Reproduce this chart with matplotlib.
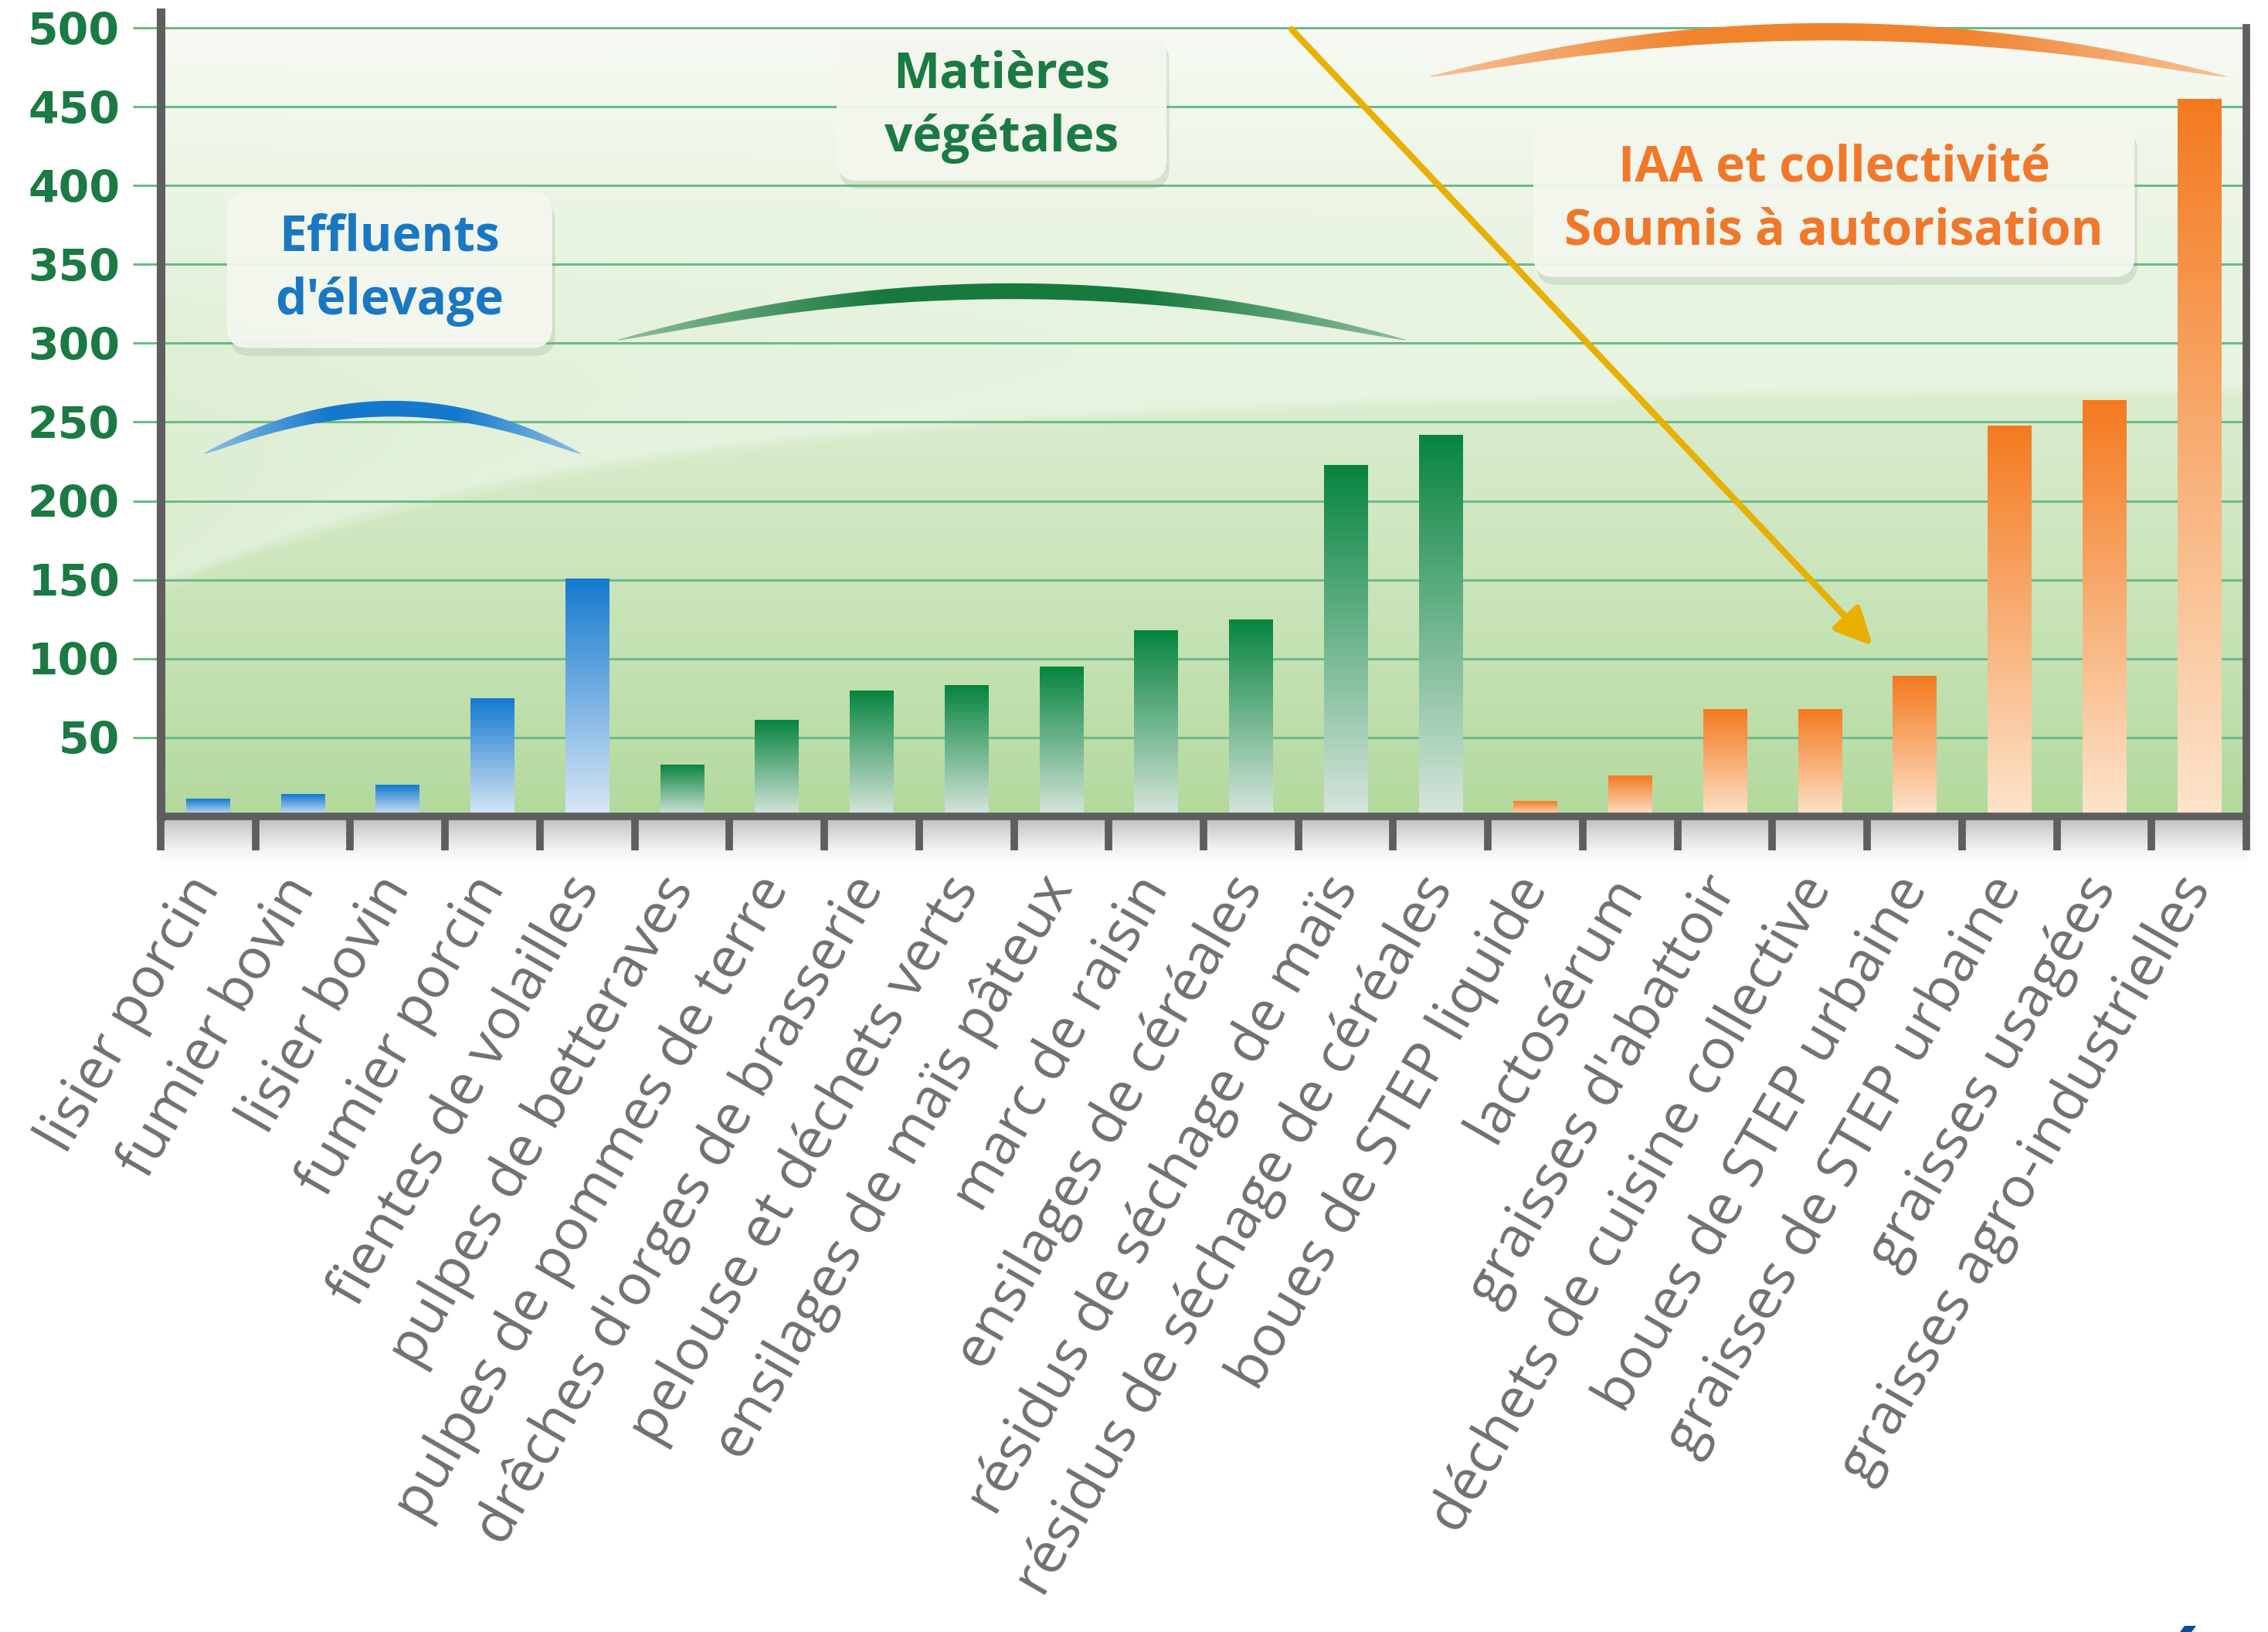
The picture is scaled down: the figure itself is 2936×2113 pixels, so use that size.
import numpy as np
import matplotlib.pyplot as plt
from matplotlib.patches import Polygon, FancyBboxPatch
from matplotlib.colors import LinearSegmentedColormap, to_rgb

# Potentiel méthanogène des substrats
categories = [
    "lisier porcin", "fumier bovin", "lisier bovin", "fumier porcin",
    "fientes de volailles", "pulpes de betteraves", "pulpes de pommes de terre",
    "drêches d'orges de brasserie", "pelouse et déchets verts",
    "ensilages de maïs pâteux", "marc de raisin", "ensilages de céréales",
    "résidus de séchage de maïs", "résidus de séchage de céréales",
    "boues de STEP liquide", "lactosérum", "graisses d'abattoir",
    "déchets de cuisine collective", "boues de STEP urbaine",
    "graisses de STEP urbaine", "graisses usagées", "graisses agro-industrielles",
]
valeurs = [11, 14, 20, 75, 151, 33, 61, 80, 83, 95, 118, 125, 223, 242,
           10, 26, 68, 68, 89, 248, 264, 455]
familles = ["elevage"] * 5 + ["vegetal"] * 9 + ["iaa"] * 8
y_ticks = [50, 100, 150, 200, 250, 300, 350, 400, 450, 500]

groupes = {
    "elevage": "Effluents\nd'élevage",
    "vegetal": "Matières\nvégétales",
    "iaa": "IAA et collectivité\nSoumis à autorisation",
}

couleurs = {
    "elevage": ("#1479cf", "#dbe8f6", "#1a78c2"),
    "vegetal": ("#07843f", "#d8e6dd", "#1b7a43"),
    "iaa": ("#f47a1f", "#fde4cd", "#f0782a"),
}

GRID = "#6dbb88"
AXE = "#5e5e5e"

fig = plt.figure(figsize=(29.36, 21.13), dpi=100)
ax = fig.add_axes([0.0708, 0.4998, 0.9197, 0.4928])
ax.set_facecolor("white")

# fond : dégradé vertical + bande claire en vague
W, H = 900, 500
xx = np.linspace(-0.5, 21.5, W)
yy = np.linspace(0, 500, H)
X, Y = np.meshgrid(xx, yy)
bas = np.array(to_rgb("#b2d99c"))
haut = np.array(to_rgb("#f7faf3"))
t = (Y / 500.0) ** 0.85
img = bas[None, None, :] * (1 - t[..., None]) + haut[None, None, :] * t[..., None]
bord = 272 - 126 * np.exp(-(X + 0.5) / 5.0)
d = Y - bord
bande = 0.42 / (1 + np.exp(-d / 2.0)) * np.exp(-np.clip(d, 0, None) / 95.0)
img = img + (1 - img) * bande[..., None]
ax.imshow(img, extent=(-0.5, 21.5, 0, 500), origin="lower", aspect="auto",
          zorder=0, interpolation="bilinear")

# lignes de grille
ax.hlines(y_ticks, -0.5, 21.5, color=GRID, lw=2.2, zorder=1)


def arc(x0, x1, y_bout, y_sommet, epais, c_mil, c_bout):
    s = np.linspace(-1, 1, 300)
    x = x0 + (s + 1) / 2 * (x1 - x0)
    dessus = y_bout + (y_sommet - y_bout) * (1 - s ** 2)
    ep = epais * (1 - s ** 2) ** 0.7
    dessous = dessus - ep
    pts = np.vstack([np.column_stack([x, dessus]),
                     np.column_stack([x[::-1], dessous[::-1]])])
    poly = Polygon(pts, closed=True, fc="none", ec="none")
    ax.add_patch(poly)
    cmap = LinearSegmentedColormap.from_list("a", [c_bout, c_mil, c_mil, c_bout])
    grad = np.linspace(0, 1, 256)[None, :]
    im = ax.imshow(grad, extent=(x0, x1, y_bout - epais, y_sommet + 2),
                   cmap=cmap, aspect="auto", zorder=2, origin="lower")
    im.set_clip_path(poly)


arc(-0.05, 3.94, 230, 263.5, 10, "#1478cc", "#8fbfe6")
arc(4.31, 12.65, 302, 338, 10, "#17793f", "#8fbf9c")
arc(12.87, 21.31, 469, 503, 11, "#f0832e", "#f6c29a")

# barres en dégradé
x = np.arange(len(categories))
barres = ax.bar(x, valeurs, width=0.46, color="none", zorder=3)
for b, fam in zip(barres, familles):
    c_haut, c_bas, _ = couleurs[fam]
    cmap = LinearSegmentedColormap.from_list(fam, [c_bas, c_haut])
    grad = np.linspace(0, 1, 256)[:, None]
    im = ax.imshow(grad, extent=(b.get_x(), b.get_x() + b.get_width(), 0, b.get_height()),
                   cmap=cmap, aspect="auto", origin="lower", zorder=3)
    im.set_clip_path(b)

# ombre sous l'axe des x
ombre = np.linspace(0, 1, 100)[:, None] ** 1.5
cm_ombre = LinearSegmentedColormap.from_list("o", ["#ffffff", "#b9b9b9"])
ax.imshow(ombre, extent=(-0.5, 21.5, -32, 0), cmap=cm_ombre, origin="lower",
          aspect="auto", zorder=0, clip_on=False)

# étiquettes des familles
boites = {
    "elevage": (0.20, 3.63, 297, 396),
    "vegetal": (6.63, 10.11, 403, 497),
    "iaa": (13.98, 20.32, 342, 440),
}
aspect = (1 / 2.042) / (1 / 122.8)
for fam, (x0, x1, y0, y1) in boites.items():
    ombre_b = FancyBboxPatch((x0 + 0.03, y0 - 5), x1 - x0, y1 - y0,
                             boxstyle="round,pad=0,rounding_size=0.22",
                             mutation_aspect=aspect, fc="#7f9f78", ec="none",
                             alpha=0.22, zorder=4)
    ax.add_patch(ombre_b)
    boite = FancyBboxPatch((x0, y0), x1 - x0, y1 - y0,
                           boxstyle="round,pad=0,rounding_size=0.22",
                           mutation_aspect=aspect, fc="#f5f8f0", ec="none",
                           alpha=0.93, zorder=4)
    ax.add_patch(boite)
    ax.text((x0 + x1) / 2, (y0 + y1) / 2, groupes[fam], ha="center", va="center",
            fontsize=46, fontweight="bold", family=["Open Sans", "DejaVu Sans"],
            color=couleurs[fam][2], linespacing=1.35, zorder=5)

# flèche jaune
ax.annotate("", xy=(17.56, 108), xytext=(11.43, 499),
            arrowprops=dict(arrowstyle="-|>,head_length=1.45,head_width=0.7",
                            color="#e8b000", lw=6, shrinkA=0, shrinkB=0,
                            mutation_scale=20),
            zorder=7)

# axes
ax.set_xlim(-0.5, 21.5)
ax.set_ylim(0, 510)
ax.spines["top"].set_visible(False)
ax.spines["left"].set_color(AXE)
ax.spines["left"].set_linewidth(8)
ax.spines["right"].set_color(AXE)
ax.spines["right"].set_linewidth(7)
ax.spines["right"].set_bounds(0, 500)
ax.spines["bottom"].set_color(AXE)
ax.spines["bottom"].set_linewidth(7)
for sp in ax.spines.values():
    sp.set_zorder(8)

ax.set_yticks(y_ticks)
ax.set_yticklabels([str(v) for v in y_ticks], fontsize=41, fontweight="bold",
                   color="#1b7a43", family="DejaVu Sans")
ax.tick_params(axis="y", length=26, width=2.2, color=GRID, pad=12)

ax.set_xticks(x)
ax.set_xticklabels(categories, rotation=60, ha="right", va="center",
                   rotation_mode="anchor", fontsize=53, color="#707070",
                   family=["Open Sans", "DejaVu Sans"])
ax.set_xticks(np.arange(-0.5, 22, 1.0), minor=True)
ax.tick_params(axis="x", which="major", length=0, pad=60)
ax.tick_params(axis="x", which="minor", length=32, width=7, color=AXE)

# fragment de logo en bas à droite
fig.patches.append(Polygon([[2822 / 2936, 0], [2837 / 2936, 0],
                            [2843 / 2936, 8 / 2113], [2828 / 2936, 8 / 2113]],
                           closed=True, transform=fig.transFigure,
                           fc="#0b4f95", ec="none"))

fig.savefig("out.png", dpi=100, facecolor="white")
